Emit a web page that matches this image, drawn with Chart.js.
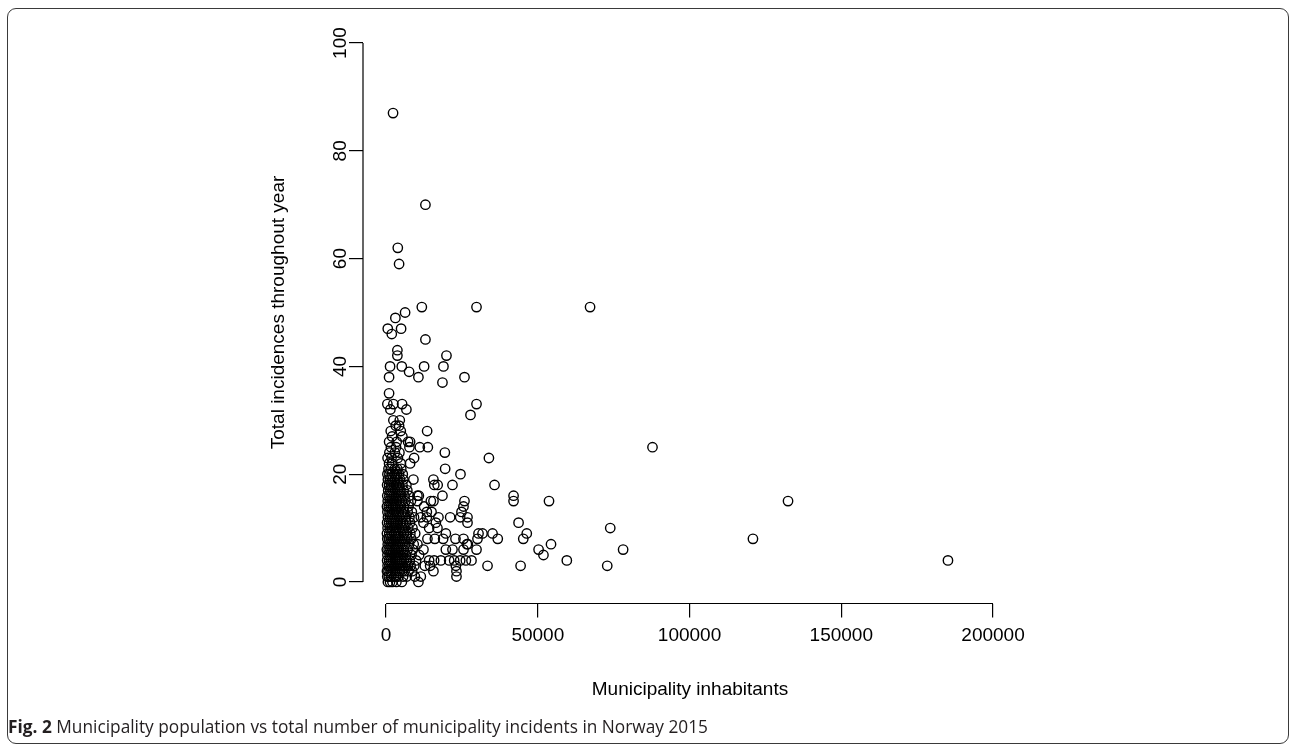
<!DOCTYPE html>
<html>
<head>
<meta charset="utf-8">
<script src="https://cdn.jsdelivr.net/npm/chart.js@4.4.0/dist/chart.umd.min.js"></script>
<style>
  html, body { margin: 0; padding: 0; background: #fff; }
  body { width: 1290px; height: 745px; position: relative; overflow: hidden; }
  #frame { position: absolute; left: 7px; top: 8px; width: 1282px; height: 736px; border: 1.5px solid #3a3a3a; border-radius: 9px; box-sizing: border-box; }
  #plot { position: absolute; left: 0; top: 0; }
  #caption { position: absolute; left: 8px; top: 715px; font-family: "Open Sans", sans-serif; font-size: 17.3px; color: #231f20; white-space: nowrap; }
  #caption b { font-weight: 700; }
</style>
</head>
<body>
<div id="frame"></div>
<canvas id="plot" width="1290" height="745"></canvas>
<div id="caption"><b>Fig. 2</b> Municipality population vs total number of municipality incidents in Norway 2015</div>
<script>
// tick labels
const xTicks = [0, 50000, 100000, 150000, 200000];
const yTicks = [0, 20, 40, 60, 80, 100];

// municipality inhabitants (x), one line here = same line in incidents
const inhabitants = [
  2300, 12970, 3860, 4290, 11780, 29800, 67220, 6270, 3070, 560,
  4950, 1880, 12970, 3730, 3730, 19900, 1320, 5180, 12540, 18910,
  7590, 990, 10660, 25840, 18580, 990, 430, 2410, 5280, 29800,
  1420, 6700, 27820, 2410, 4520, 3200, 4290, 1540, 4850, 13530,
  1990, 5380, 1000, 3500, 7260, 7920, 7700, 11120, 13760, 87790,
  19370, 33890, 9240, 7920, 19470, 24520, 9010, 15600, 15900, 17000,
  21880, 35740, 42010, 42010, 53690, 10330, 10800, 18580, 25840, 25510,
  14750, 15620, 12540, 10330, 13430, 14980, 24850, 21120, 24420, 26830,
  11450, 13430, 17260, 26830, 43660, 12320, 16400, 73870, 14190, 16930,
  30460, 31780, 35080, 46360, 19700, 22870, 30130, 36800, 45210, 13630,
  16070, 18810, 25510, 120890, 26630, 26960, 54350, 132450,
  50260, 78110, 12320, 19700, 21880, 25510, 29800, 10330, 51860, 14190,
  15840, 18050, 20790, 22440, 24420, 26300, 28150, 59560, 185150, 33430,
  44330, 72880, 12770, 14520, 23000, 23200, 15610, 23200, 11450, 10660,
  // small municipalities, dense cluster
  600, 1300, 2100, 3400, 5200,
  400, 900, 1700, 2600, 3300, 4100, 5600, 6800, 9500,
  300, 800, 1500, 2200, 2900, 3700, 4500, 5300, 6100, 7400, 8600,
  500, 1100, 1800, 2500, 3100, 3900, 4700, 5500, 6400, 7200, 8100, 9300,
  350, 1000, 1600, 2300, 3000, 3600, 4400, 5100, 5900, 6700, 7800, 9900,
  450, 1200, 1900, 2700, 3400, 4000, 4800, 5700, 6600, 8400, 10900,
  250, 850, 1450, 2100, 2800, 3500, 4200, 5000, 5800, 7100, 8800,
  550, 1150, 1750, 2400, 3200, 3900, 4600, 5400, 6300, 7600, 9100,
  400, 950, 1650, 2300, 3000, 3800, 4500, 5300, 6200, 7000, 8300,
  300, 1050, 1800, 2600, 3300, 4100, 4900, 5900, 6900, 8000, 9600,
  500, 1250, 1900, 2700, 3500, 4300, 5200, 6100, 7300, 8700,
  350, 1000, 1700, 2400, 3100, 3900, 4700, 5600, 6600, 7900,
  600, 1300, 2000, 2800, 3600, 4400, 5400, 6500, 7700, 9200,
  450, 1150, 1900, 2600, 3400, 4200, 5100, 6000, 7100, 8500,
  300, 900, 1600, 2300, 3100, 3900, 4800, 5900, 7400,
  550, 1250, 2000, 2700, 3500, 4400, 5300, 6400, 8200,
  400, 1100, 1800, 2500, 3300, 4100, 5000, 6100, 7600,
  700, 1400, 2200, 3000, 3800, 4700, 5800, 7000,
  350, 1000, 1700, 2500, 3400, 4300, 5400, 6700,
  600, 1300, 2100, 2900, 3700, 4600, 5700,
  450, 1100, 1900, 2800, 3600, 4290, 5500,
  800, 1600, 2870, 3700, 5000,
  990, 2000, 4850,
  500, 1800, 3900,
  1100, 2900, 4400,
  1600, 3300
];

// total incidences throughout year (y)
const incidents = [
  87, 70, 62, 59, 51, 51, 51, 50, 49, 47,
  47, 46, 45, 43, 42, 42, 40, 40, 40, 40,
  39, 38, 38, 38, 37, 35, 33, 33, 33, 33,
  32, 32, 31, 30, 30, 29, 29, 28, 28, 28,
  27, 27, 26, 26, 26, 26, 25, 25, 25, 25,
  24, 23, 23, 22, 21, 20, 19, 19, 18, 18,
  18, 18, 16, 15, 15, 16, 16, 16, 15, 14,
  15, 15, 14, 15, 13, 13, 13, 12, 12, 12,
  12, 12, 12, 11, 11, 11, 11, 10, 10, 10,
  9, 9, 9, 9, 9, 8, 8, 8, 8, 8,
  8, 8, 8, 8, 7, 7, 7, 15,
  6, 6, 6, 6, 6, 6, 6, 7, 5, 4,
  4, 4, 4, 4, 4, 4, 4, 4, 4, 3,
  3, 3, 3, 3, 3, 2, 2, 1, 1, 0,
  0, 0, 0, 0, 0,
  1, 1, 1, 1, 1, 1, 1, 1, 1,
  2, 2, 2, 2, 2, 2, 2, 2, 2, 2, 2,
  3, 3, 3, 3, 3, 3, 3, 3, 3, 3, 3, 3,
  4, 4, 4, 4, 4, 4, 4, 4, 4, 4, 4, 4,
  5, 5, 5, 5, 5, 5, 5, 5, 5, 5, 5,
  6, 6, 6, 6, 6, 6, 6, 6, 6, 6, 6,
  7, 7, 7, 7, 7, 7, 7, 7, 7, 7, 7,
  8, 8, 8, 8, 8, 8, 8, 8, 8, 8, 8,
  9, 9, 9, 9, 9, 9, 9, 9, 9, 9, 9,
  10, 10, 10, 10, 10, 10, 10, 10, 10, 10,
  11, 11, 11, 11, 11, 11, 11, 11, 11, 11,
  12, 12, 12, 12, 12, 12, 12, 12, 12, 12,
  13, 13, 13, 13, 13, 13, 13, 13, 13, 13,
  14, 14, 14, 14, 14, 14, 14, 14, 14,
  15, 15, 15, 15, 15, 15, 15, 15, 15,
  16, 16, 16, 16, 16, 16, 16, 16, 16,
  17, 17, 17, 17, 17, 17, 17, 17,
  18, 18, 18, 18, 18, 18, 18, 18,
  19, 19, 19, 19, 19, 19, 19,
  20, 20, 20, 20, 20, 20, 20,
  21, 21, 21, 21, 21,
  22, 22, 22,
  23, 23, 23,
  24, 24, 24,
  25, 25
];

if (inhabitants.length !== incidents.length) {
  console.error('length mismatch', inhabitants.length, incidents.length);
}

const points = inhabitants.map((v, i) => ({ x: v, y: incidents[i] }));

const fontFamily = '"Liberation Sans", Arial, Helvetica, sans-serif';
const axisFont = { family: fontFamily, size: 19 };

// R style axes: line only from first to last tick, y labels turned
const rAxes = {
  id: 'rAxes',
  afterDraw(chart) {
    const ctx = chart.ctx;
    const xs = chart.scales.x;
    const ys = chart.scales.y;
    const area = chart.chartArea;
    ctx.save();
    ctx.strokeStyle = '#000';
    ctx.lineWidth = 1.2;
    ctx.beginPath();
    ctx.moveTo(xs.getPixelForValue(xTicks[0]), area.bottom);
    ctx.lineTo(xs.getPixelForValue(xTicks[xTicks.length - 1]), area.bottom);
    ctx.moveTo(area.left, ys.getPixelForValue(yTicks[0]));
    ctx.lineTo(area.left, ys.getPixelForValue(yTicks[yTicks.length - 1]));
    ctx.stroke();

    ctx.fillStyle = '#000';
    ctx.font = '19px ' + fontFamily;
    ctx.textAlign = 'center';
    ctx.textBaseline = 'middle';
    yTicks.forEach(v => {
      ctx.save();
      ctx.translate(area.left - 22, ys.getPixelForValue(v));
      ctx.rotate(-Math.PI / 2);
      ctx.fillText(String(v), 0, 0);
      ctx.restore();
    });
    ctx.restore();
  }
};

new Chart(document.getElementById('plot'), {
  type: 'scatter',
  data: {
    datasets: [{
      data: points,
      pointStyle: 'circle',
      pointRadius: 4.7,
      pointBorderWidth: 1.4,
      borderColor: '#000',
      backgroundColor: 'rgba(0,0,0,0)',
      pointHoverRadius: 4.7
    }]
  },
  options: {
    responsive: false,
    animation: false,
    events: [],
    layout: { padding: { left: 0, top: 21.5, right: 273, bottom: 0 } },
    plugins: {
      legend: { display: false },
      tooltip: { enabled: false }
    },
    scales: {
      x: {
        type: 'linear',
        min: -7600,
        max: 207900,
        afterBuildTicks: s => { s.ticks = xTicks.map(v => ({ value: v })); },
        afterFit: s => { s.height = 141.5; },
        border: { display: false },
        grid: { drawOnChartArea: false, drawTicks: true, tickLength: 14, color: '#000', lineWidth: 1.2 },
        ticks: { font: axisFont, color: '#000', padding: 7, maxRotation: 0, autoSkip: false, callback: v => String(v) },
        title: { display: true, text: 'Municipality inhabitants', font: axisFont, color: '#000', padding: { top: 0, bottom: 43.6 } }
      },
      y: {
        type: 'linear',
        min: -4,
        max: 104,
        afterBuildTicks: s => { s.ticks = yTicks.map(v => ({ value: v })); },
        afterFit: s => { s.width = 363; },
        border: { display: false },
        grid: { drawOnChartArea: false, drawTicks: true, tickLength: 14, color: '#000', lineWidth: 1.2 },
        ticks: { display: false },
        title: { display: true, text: 'Total incidences throughout year', font: axisFont, color: '#000', padding: { top: 267.6, bottom: 0 } }
      }
    }
  },
  plugins: [rAxes]
});
</script>
</body>
</html>
